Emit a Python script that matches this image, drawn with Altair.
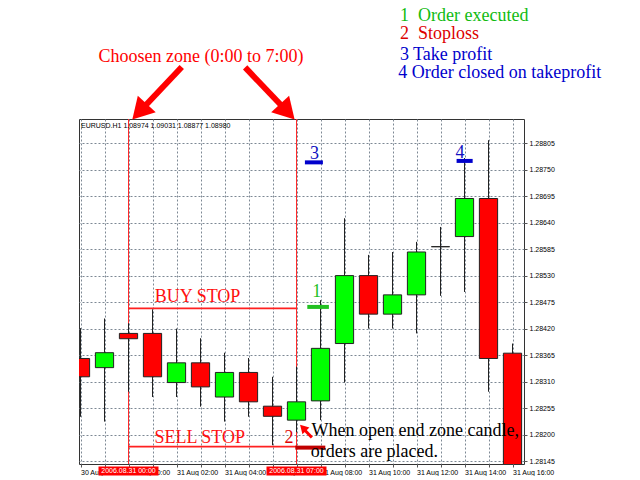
import altair as alt
import pandas as pd

# ---------------- data ----------------
idx = list(range(19))
hour_labels = ["30 Aug 22:00", "30 Aug 23:00", "31 Aug 00:00", "31 Aug 01:00", "31 Aug 02:00",
               "31 Aug 03:00", "31 Aug 04:00", "31 Aug 05:00", "31 Aug 06:00", "31 Aug 07:00",
               "31 Aug 08:00", "31 Aug 09:00", "31 Aug 10:00", "31 Aug 11:00", "31 Aug 12:00",
               "31 Aug 13:00", "31 Aug 14:00", "31 Aug 15:00", "31 Aug 16:00"]
opens  = [1.28358, 1.28339, 1.28410, 1.28410, 1.28308, 1.28349, 1.28278, 1.28329, 1.28259, 1.28230,
          1.28270, 1.28389, 1.28530, 1.28450, 1.28490, 1.28590, 1.28611, 1.28690, 1.28369]
highs  = [1.28421, 1.28441, 1.28431, 1.28460, 1.28420, 1.28400, 1.28370, 1.28359, 1.28320, 1.28341,
          1.28479, 1.28649, 1.28573, 1.28579, 1.28600, 1.28631, 1.28774, 1.28811, 1.28389]
lows   = [1.28237, 1.28227, 1.28289, 1.28278, 1.28278, 1.28258, 1.28227, 1.28237, 1.28178, 1.28205,
          1.28230, 1.28308, 1.28420, 1.28420, 1.28410, 1.28488, 1.28496, 1.28289, 1.28120]
closes = [1.28320, 1.28370, 1.28399, 1.28320, 1.28349, 1.28299, 1.28329, 1.28268, 1.28238, 1.28268,
          1.28379, 1.28530, 1.28450, 1.28490, 1.28579, 1.28590, 1.28690, 1.28358, 1.28120]
price_ticks = [1.28145, 1.28200, 1.28255, 1.28310, 1.28365, 1.28420, 1.28475,
               1.28530, 1.28585, 1.28640, 1.28695, 1.28750, 1.28805]

zone_idx = [2, 9]
buy_stop = 1.28462
sell_stop = 1.28175

# ---------------- scales / axes ----------------
xscale = alt.Scale(domain=[-0.0625, 18.479], nice=False, zero=False)
yscale = alt.Scale(domain=[1.28139, 1.28855], nice=False, zero=False)
axis_labels = [hour_labels[i] if i % 2 == 0 else "" for i in idx]
label_expr = "[" + ",".join("'" + s + "'" for s in axis_labels) + "][datum.value]"
grid_col = "#7d8894"
xaxis = alt.Axis(values=idx, labelExpr=label_expr, labelAlign="left", labelPadding=1,
                 labelFont="Liberation Sans", labelFontSize=7, labelColor="black",
                 tickSize=3, tickColor="#555", domain=False, grid=True, gridColor=grid_col,
                 gridDash=[2, 2], title=None, labelOverlap=False, labelFlush=False)
yaxis = alt.Axis(orient="right", values=price_ticks, format=".5f", labelFont="Liberation Sans",
                 labelFontSize=7, labelColor="black", labelPadding=2, tickSize=3, tickColor="#555",
                 domain=False, grid=True, gridColor=grid_col, gridDash=[2, 2], title=None,
                 labelOverlap=False, labelFlush=False)


def X(f):
    return alt.X(f"{f}:Q", scale=xscale, axis=xaxis)


def Y(f):
    return alt.Y(f"{f}:Q", scale=yscale, axis=yaxis)


candles = pd.DataFrame({"i": idx, "o": opens, "h": highs, "l": lows, "c": closes})
candles["dir"] = ["up" if c >= o else "down" for o, c in zip(opens, closes)]
candles["x1"] = candles["i"] - 0.38
candles["x2"] = candles["i"] + 0.38

zone = pd.DataFrame({"i": zone_idx, "lo": [1.28139] * 2, "hi": [1.28855] * 2})
stops = pd.DataFrame({"x1": [zone_idx[0]] * 2, "x2": [zone_idx[1]] * 2, "p": [buy_stop, sell_stop]})

markers = pd.DataFrame({
    "x1": [9.45, 8.95, 9.35, 15.67],
    "x2": [10.35, 10.2, 10.1, 16.34],
    "p": [1.28465, 1.28173, 1.28765, 1.28768],
    "col": ["#22c022", "#c00000", "#0000cc", "#0000cc"],
})

center_texts = pd.DataFrame({
    "t": ["Choosen zone (0:00 to 7:00)", "BUY STOP", "SELL STOP", "2", "1", "3", "4"],
    "i": [5.02, 4.88, 4.97, 8.69, 9.84, 9.75, 15.81],
    "p": [1.28974, 1.28476, 1.28182, 1.28182, 1.28486, 1.28773, 1.28774],
    "col": ["#ff0000", "#ff1010", "#ff1010", "#e00000", "#22c022", "#1010c0", "#1010c0"],
})

left_texts = pd.DataFrame({
    "t": ["1\u00a0 Order executed", "2\u00a0 Stoploss", "3 Take profit", "4 Order closed on takeprofit",
          "When open end zone candle,", "orders are placed."],
    "i": [13.31, 13.31, 13.31, 13.24, 9.63, 9.59],
    "p": [1.29058, 1.29020, 1.28977, 1.28941, 1.28198, 1.28153],
    "col": ["#11bb11", "#dd0000", "#0000cc", "#0000cc", "black", "black"],
})

arrow_shafts = pd.DataFrame({
    "x1": [4.22, 6.86], "y1": [1.28963, 1.28962],
    "x2": [2.46, 8.62], "y2": [1.28870, 1.28870],
})
arrow_heads = pd.DataFrame({"i": [2.46, 8.62], "p": [1.28870, 1.28870], "ang": [223, 137]})

small_shaft = pd.DataFrame({"x1": [9.64], "y1": [1.28194], "x2": [9.29], "y2": [1.28212]})
small_head = pd.DataFrame({"i": [9.27], "p": [1.28214], "ang": [316]})

boxes = pd.DataFrame({
    "i": zone_idx, "t": ["2006.08.31 00:00", "2006.08.31 07:00"],
    "x1": [zone_idx[0] - 1.25, zone_idx[1] - 1.25], "x2": [zone_idx[0] + 1.25, zone_idx[1] + 1.25],
    "top": [1.28134, 1.28134], "bot": [1.28115, 1.28115], "mid": [1.28124, 1.28124],
})

header = pd.DataFrame({"t": ["EURUSD.H1  1.08974 1.09031 1.08877 1.08980"], "i": [0.02], "p": [1.28840]})

# ---------------- layers ----------------
zone_l = alt.Chart(zone).mark_rule(color="#ff2a2a", strokeWidth=1).encode(x=X("i"), y=Y("lo"), y2="hi:Q")
stops_l = alt.Chart(stops).mark_rule(color="#ff2020", strokeWidth=1.6).encode(x=X("x1"), x2="x2:Q", y=Y("p"))
wicks = alt.Chart(candles).mark_rule(color="#222", strokeWidth=1, clip=True).encode(
    x=X("i"), y=Y("l"), y2="h:Q")
bodies = alt.Chart(candles).mark_bar(stroke="#222", strokeWidth=1, clip=True).encode(
    x=X("x1"), x2="x2:Q", y=Y("o"), y2="c:Q",
    color=alt.Color("dir:N", scale=alt.Scale(domain=["up", "down"], range=["#00ff00", "#ff0000"]), legend=None))
mark_l = alt.Chart(markers).mark_rule(strokeWidth=4, strokeCap="butt").encode(
    x=X("x1"), x2="x2:Q", y=Y("p"), color=alt.Color("col:N", scale=None))
ctext = alt.Chart(center_texts).mark_text(font="Liberation Serif", fontSize=18, align="center",
                                          baseline="alphabetic").encode(
    x=X("i"), y=Y("p"), text="t:N", color=alt.Color("col:N", scale=None))
ltext = alt.Chart(left_texts).mark_text(font="Liberation Serif", fontSize=18, align="left",
                                        baseline="alphabetic").encode(
    x=X("i"), y=Y("p"), text="t:N", color=alt.Color("col:N", scale=None))
shafts = alt.Chart(arrow_shafts).mark_rule(color="#ff0000", strokeWidth=6).encode(
    x=X("x1"), y=Y("y1"), x2="x2:Q", y2="y2:Q")
heads = alt.Chart(arrow_heads).mark_point(shape="triangle-up", filled=True, size=600, color="#ff0000",
                                          opacity=1).encode(x=X("i"), y=Y("p"), angle=alt.Angle("ang:Q", scale=None))
sshaft = alt.Chart(small_shaft).mark_rule(color="#ff0000", strokeWidth=3).encode(
    x=X("x1"), y=Y("y1"), x2="x2:Q", y2="y2:Q")
shead = alt.Chart(small_head).mark_point(shape="triangle-up", filled=True, size=95, color="#ff0000",
                                         opacity=1).encode(x=X("i"), y=Y("p"), angle=alt.Angle("ang:Q", scale=None))
box_l = alt.Chart(boxes).mark_rect(color="#ff0000").encode(x=X("x1"), x2="x2:Q", y=Y("top"), y2="bot:Q")
box_t = alt.Chart(boxes).mark_text(font="Liberation Sans", fontSize=7, color="white", align="center",
                                   baseline="middle").encode(x=X("i"), y=Y("mid"), text="t:N")
head_t = alt.Chart(header).mark_text(font="Liberation Sans", fontSize=7, color="black", align="left",
                                     baseline="middle").encode(x=X("i"), y=Y("p"), text="t:N")

chart = alt.layer(zone_l, stops_l, wicks, bodies, mark_l, ctext, ltext, shafts, heads, sshaft, shead,
                  box_l, box_t, head_t).properties(
    width=445, height=345,
    padding={"left": 71, "top": 111, "right": 106, "bottom": 12},
    autosize=alt.AutoSizeParams(type="none"),
    background="white",
).configure_view(stroke="#333", strokeWidth=1)

chart.save("out.html", embed_options={"renderer": "svg", "actions": False})
